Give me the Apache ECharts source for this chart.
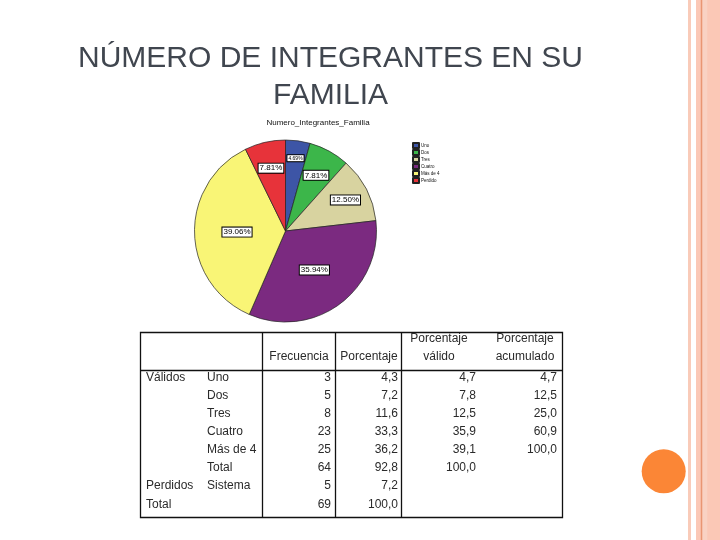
<!DOCTYPE html>
<html>
<head>
<meta charset="utf-8">
<script src="https://cdn.jsdelivr.net/npm/echarts@6/dist/echarts.min.js"></script>
<style>
  html, body { margin: 0; padding: 0; background: #fff; }
  #chart { width: 720px; height: 540px; }
</style>
</head>
<body>
<div id="chart"></div>
<script>
// pie data
const pieNames = ['Uno', 'Dos', 'Tres', 'Cuatro', 'Más de 4', 'Perdido'];
const pieValues = [3, 5, 8, 23, 25, 5];
const pieLabels = ['4.69%', '7.81%', '12.50%', '35.94%', '39.06%', '7.81%'];
const pieColors = ['#3d55a6', '#3cb64a', '#d8d3a0', '#7b2a80', '#f9f576', '#e7333a'];

// frequency table
const headTop = ['', '', '', '', 'Porcentaje', 'Porcentaje'];
const headBottom = ['', '', 'Frecuencia', 'Porcentaje', 'válido', 'acumulado'];
const rowGroup = ['Válidos', '', '', '', '', '', 'Perdidos', 'Total'];
const rowCat = ['Uno', 'Dos', 'Tres', 'Cuatro', 'Más de 4', 'Total', 'Sistema', ''];
const frecuencia = ['3', '5', '8', '23', '25', '64', '5', '69'];
const porcentaje = ['4,3', '7,2', '11,6', '33,3', '36,2', '92,8', '7,2', '100,0'];
const pctValido = ['4,7', '7,8', '12,5', '35,9', '39,1', '100,0', '', ''];
const pctAcumulado = ['4,7', '12,5', '25,0', '60,9', '100,0', '', '', ''];

const chart = echarts.init(document.getElementById('chart'));

const font = '12px "Liberation Sans", Arial, sans-serif';
const txtColor = '#2a2a2a';
const tbl = { left: 140.5, right: 562.5, top: 332.5, bottom: 517.5, headLine: 370.5 };
const vLines = [262.5, 335.5, 401.5];
const headCenters = [0, 0, 299, 369, 439, 525];
const numRight = [331, 398, 476, 557];
const rowY0 = 377.5, rowH = 18.1;

// extra radial push of each pie label (px), like the SPSS placement
const labelPush = [25, 15, 19, 0, 0, 16];
const labelSize = [5, 8, 8, 8, 8, 8];

const graphics = [];

// slide decoration on the right
graphics.push({ type: 'rect', shape: { x: 688, y: 0, width: 3, height: 540 }, style: { fill: '#f9cbb9' }, silent: true });
graphics.push({ type: 'rect', shape: { x: 696, y: 0, width: 24, height: 540 }, style: { fill: '#fbc8b6' }, silent: true });
graphics.push({ type: 'rect', shape: { x: 702.3, y: 0, width: 5, height: 540 }, style: { fill: '#f9d2c3' }, silent: true });
graphics.push({ type: 'line', shape: { x1: 701.5, y1: 0, x2: 701.5, y2: 540 }, style: { stroke: '#e99673', lineWidth: 1.5 }, silent: true });
graphics.push({ type: 'circle', shape: { cx: 663.7, cy: 471.3, r: 22 }, style: { fill: '#fb8636' }, silent: true });

// table frame
graphics.push({ type: 'rect', shape: { x: tbl.left, y: tbl.top, width: tbl.right - tbl.left, height: tbl.bottom - tbl.top }, style: { fill: 'none', stroke: '#111', lineWidth: 1.3 }, silent: true });
graphics.push({ type: 'line', shape: { x1: tbl.left, y1: tbl.headLine, x2: tbl.right, y2: tbl.headLine }, style: { stroke: '#111', lineWidth: 1.3 }, silent: true });
vLines.forEach(x => {
  graphics.push({ type: 'line', shape: { x1: x, y1: tbl.top, x2: x, y2: tbl.bottom }, style: { stroke: '#111', lineWidth: 1.3 }, silent: true });
});

// header texts
headTop.forEach((t, i) => {
  if (!t) return;
  graphics.push({ type: 'text', style: { text: t, x: headCenters[i], y: 339, align: 'center', verticalAlign: 'middle', font: font, fill: txtColor }, silent: true });
});
headBottom.forEach((t, i) => {
  if (!t) return;
  graphics.push({ type: 'text', style: { text: t, x: headCenters[i], y: 357, align: 'center', verticalAlign: 'middle', font: font, fill: txtColor }, silent: true });
});

// body rows
const numCols = [frecuencia, porcentaje, pctValido, pctAcumulado];
rowGroup.forEach((g, r) => {
  const y = rowY0 + r * rowH;
  if (g) graphics.push({ type: 'text', style: { text: g, x: 146, y: y, align: 'left', verticalAlign: 'middle', font: font, fill: txtColor }, silent: true });
  if (rowCat[r]) graphics.push({ type: 'text', style: { text: rowCat[r], x: 207, y: y, align: 'left', verticalAlign: 'middle', font: font, fill: txtColor }, silent: true });
  numCols.forEach((col, c) => {
    if (!col[r]) return;
    graphics.push({ type: 'text', style: { text: col[r], x: numRight[c], y: y, align: 'right', verticalAlign: 'middle', font: font, fill: txtColor }, silent: true });
  });
});

// mid angle (clockwise from 12 o'clock) of each slice
const pieTotal = pieValues.reduce((a, b) => a + b, 0);
const midAngles = [];
let acc = 0;
pieValues.forEach(v => {
  midAngles.push((acc + v / 2) / pieTotal * Math.PI * 2);
  acc += v;
});

chart.setOption({
  backgroundColor: '#fff',
  animation: false,
  title: [
    {
      text: 'NÚMERO DE INTEGRANTES EN SU\nFAMILIA',
      left: 325.5,
      top: 35,
      textAlign: 'center',
      textStyle: {
        fontFamily: '"Liberation Sans", Arial, sans-serif',
        fontSize: 30,
        fontWeight: 'normal',
        color: '#40464f',
        lineHeight: 37
      }
    },
    {
      text: 'Numero_Integrantes_Familia',
      left: 313,
      top: 114,
      textAlign: 'center',
      textStyle: {
        fontFamily: '"Liberation Sans", Arial, sans-serif',
        fontSize: 8,
        fontWeight: 'normal',
        color: '#111'
      }
    }
  ],
  legend: {
    orient: 'vertical',
    left: 412,
    top: 142,
    padding: 0,
    itemWidth: 6,
    itemHeight: 5,
    itemGap: 0,
    icon: 'rect',
    textStyle: { fontSize: 4.5, lineHeight: 6.5, color: '#111', padding: [0, 0, 0, -3] },
    data: pieNames
  },
  graphic: graphics,
  series: [
    {
      type: 'pie',
      center: [285.5, 231],
      radius: 91,
      startAngle: 90,
      clockwise: true,
      silent: true,
      avoidLabelOverlap: false,
      itemStyle: { borderColor: '#222', borderWidth: 0.7 },
      label: {
        show: true,
        position: 'inside',
        formatter: p => pieLabels[p.dataIndex],
        fontSize: 8,
        fontFamily: '"Liberation Sans", Arial, sans-serif',
        color: '#000',
        backgroundColor: '#fff',
        borderColor: '#000',
        borderWidth: 1,
        padding: [1, 1, 0, 1]
      },
      labelLine: { show: false },
      labelLayout: p => ({
        dx: labelPush[p.dataIndex] * Math.sin(midAngles[p.dataIndex]),
        dy: -labelPush[p.dataIndex] * Math.cos(midAngles[p.dataIndex])
      }),
      data: pieNames.map((n, i) => ({
        name: n,
        value: pieValues[i],
        itemStyle: { color: pieColors[i] },
        label: { fontSize: labelSize[i] }
      }))
    }
  ]
});
</script>
</body>
</html>
